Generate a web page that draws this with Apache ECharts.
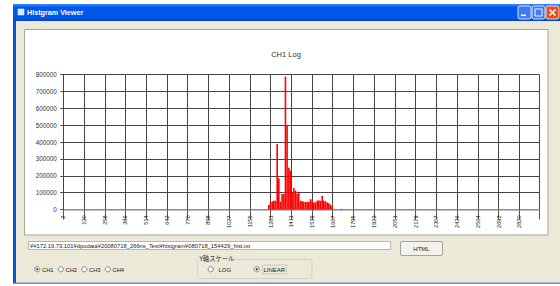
<!DOCTYPE html>
<html><head><meta charset="utf-8">
<script src="https://cdn.jsdelivr.net/npm/echarts@6/dist/echarts.min.js"></script>
<style>html,body{margin:0;padding:0;background:#fff}#c{width:560px;height:286px}</style>
</head><body><div id="c"></div>
<script>
// ---- data ----
const windowTitle = 'Histgram Viewer';
const chartTitle = 'CH1 Log';
const filePath = '¥¥172.19.73.101¥dpodata¥20080718_266ns_Test¥histgram¥080718_154429_hist.txt';
const channelNames = ['CH1', 'CH2', 'CH3', 'CH4'];
const scaleGroupTitle = 'Y軸スケール';
const scaleNames = ['LOG', 'LINEAR'];
const buttonText = 'HTML';

const xTickLabels = ['2','130','258','386','514','642','770','898','1027','1155','1283','1411',
  '1539','1667','1795','1923','2051','2179','2307','2436','2564','2692','2820'];
const binNumbers = [1270,1280,1291,1301,1311,1322,1332,1342,1352,1363,1373,1383,1394,1404,1414,
  1425,1435,1445,1455,1466,1476,1486,1497,1507,1517,1528,1538,1548,1558,1569,1579,1589,1600,
  1610,1620,1631,1641,1651,1661,1719];
const binCounts = [27000,44000,47000,52000,52000,388000,185000,47000,92000,92000,788000,500000,
  248000,230000,104000,128000,112000,92000,105000,52000,50000,45000,44000,44000,45000,62000,
  52000,42000,42000,52000,54000,52000,82000,52000,49000,42000,37000,29000,19000,4000];
const yMax = 800000, yStep = 100000;
const xStep = 128.09, xMax = 2940;

// ---- chart ----
const chart = echarts.init(document.getElementById('c'), null, {renderer: 'svg'});
const F = 'Liberation Sans, Arial, sans-serif';
const J = 'Noto Sans CJK JP, sans-serif';

function radio(cx, cy, on) {
  const els = [{type:'circle', z:10, shape:{cx, cy, r:2.6}, style:{fill:'#fff', stroke:'#6a6a6a', lineWidth:0.8}}];
  if (on) els.push({type:'circle', z:11, shape:{cx, cy, r:1.1}, style:{fill:'#333'}});
  return els;
}
function label(x, y, text, size, opts) {
  return Object.assign({type:'text', z:12, x, y, style:Object.assign({text, fontSize:size, fontFamily:F, fill:'#222', align:'left', verticalAlign:'middle'}, opts||{})});
}

const graphics = [
  {type:'rect', z:-10, shape:{x:13, y:4, width:547, height:280}, style:{fill:'#ECE9D8'}},
  {type:'rect', z:-9, shape:{x:13, y:4, width:3, height:280}, style:{fill:'#0A4FD8'}},
  {type:'rect', z:-9, shape:{x:13, y:282.5, width:547, height:1.5}, style:{fill:'#6F8FDA'}},
  {type:'rect', z:-9, shape:{x:13, y:4, width:547, height:17},
    style:{fill:new echarts.graphic.LinearGradient(0,0,0,1,[{offset:0,color:'#3C8CFF'},{offset:0.2,color:'#0058EE'},{offset:0.85,color:'#0055E5'},{offset:1,color:'#0042C8'}])}},
  {type:'rect', z:-8, shape:{x:18, y:9, width:6, height:6}, style:{fill:'#d8e4f8', stroke:'#fff', lineWidth:0.5}},
  label(27, 12.5, windowTitle, 7.2, {fill:'#fff', fontWeight:'bold'}),
  {type:'rect', z:-8, shape:{x:518, y:6, width:13, height:13, r:2}, style:{fill:'#3D7BF0', stroke:'#fff', lineWidth:0.8}},
  {type:'rect', z:-7, shape:{x:521, y:14.5, width:5, height:1.6}, style:{fill:'#fff'}},
  {type:'rect', z:-8, shape:{x:532, y:6, width:13, height:13, r:2}, style:{fill:'#3D7BF0', stroke:'#fff', lineWidth:0.8}},
  {type:'rect', z:-7, shape:{x:535, y:9, width:7, height:7}, style:{fill:'none', stroke:'#fff', lineWidth:1}},
  {type:'rect', z:-8, shape:{x:546, y:6, width:13, height:13, r:2}, style:{fill:'#E0522B', stroke:'#fff', lineWidth:0.8}},
  {type:'line', z:-7, shape:{x1:549.5, y1:9.5, x2:555.5, y2:15.5}, style:{stroke:'#fff', lineWidth:1.5}},
  {type:'line', z:-7, shape:{x1:555.5, y1:9.5, x2:549.5, y2:15.5}, style:{stroke:'#fff', lineWidth:1.5}},
  {type:'rect', z:-8, shape:{x:24.5, y:29.5, width:523.5, height:205.5}, style:{fill:'#fff', stroke:'#a7a69a', lineWidth:1}},
  {type:'rect', z:-8, shape:{x:28.5, y:241.5, width:362, height:8}, style:{fill:'#fff', stroke:'#9aa8b8', lineWidth:0.8}},
  label(30, 245.7, filePath, 5.8),
  {type:'rect', z:-8, shape:{x:400.5, y:241.5, width:42, height:14, r:1.5}, style:{fill:'#F3F2EC', stroke:'#8f8f88', lineWidth:0.8}},
  label(421.5, 248.5, buttonText, 6, {align:'center'}),
  ...channelNames.flatMap((n, i) => [...radio(37.3 + i * 23.5, 269.3, i === 0), label(42 + i * 23.5, 269.5, n, 5.8)]),
  {type:'rect', z:-8, shape:{x:197.5, y:259.5, width:114.5, height:19, r:2}, style:{fill:'none', stroke:'#cfcdbf', lineWidth:0.8}},
  {type:'rect', z:-7, shape:{x:199, y:256, width:33, height:5}, style:{fill:'#ECE9D8'}},
  label(199.5, 258.3, scaleGroupTitle, 6.3, {fontFamily:J}),
  ...radio(210.7, 269.3, false), label(218.5, 269.5, scaleNames[0], 6),
  ...radio(256.7, 269.3, true), label(263.5, 269.5, scaleNames[1], 6),
  {type:'rect', z:-7, shape:{x:262.5, y:265, width:24, height:9}, style:{fill:'none', stroke:'#777', lineWidth:0.5, lineDash:[1,1]}}
];

const option = {
  backgroundColor: '#fff',
  animation: false,
  title: {text: chartTitle, left: 281, top: 45.5, textAlign: 'center',
    textStyle: {fontSize: 7.5, fontWeight: 'normal', color: '#333', fontFamily: F}},
  grid: {left: 63.3, right: 21, top: 74.5, bottom: 76.5, containLabel: false},
  xAxis: {
    type: 'value', min: 0, max: xMax, interval: xStep,
    axisLine: {show: true, onZero: false, lineStyle: {color: '#a9a9a9', width: 1.5}},
    axisTick: {show: true, length: 10, lineStyle: {color: '#555', width: 1}},
    splitLine: {show: true, lineStyle: {color: '#444', width: 1}},
    axisLabel: {
      rotate: 90, margin: 6, fontSize: 5.6, color: '#111', fontFamily: F, padding: [5, 0, 0, 0],
      showMaxLabel: true, showMinLabel: true,
      formatter: v => {
        const i = Math.round(v / xStep);
        return (Math.abs(i * xStep - v) < 1 && i < xTickLabels.length) ? xTickLabels[i] : '';
      }
    }
  },
  yAxis: {
    type: 'value', min: 0, max: yMax, interval: yStep,
    axisLine: {show: true, lineStyle: {color: '#444', width: 1}},
    axisTick: {show: true, length: 3, lineStyle: {color: '#444'}},
    splitLine: {show: true, lineStyle: {color: '#444', width: 1}},
    axisLabel: {margin: 6.5, fontSize: 6.3, color: '#333', fontFamily: F, formatter: v => String(v)}
  },
  series: [{
    type: 'bar', barWidth: 1.6, itemStyle: {color: '#ff0000'},
    data: binNumbers.map((b, i) => [b, binCounts[i]])
  }],
  graphic: {elements: graphics}
};
chart.setOption(option);
</script></body></html>
